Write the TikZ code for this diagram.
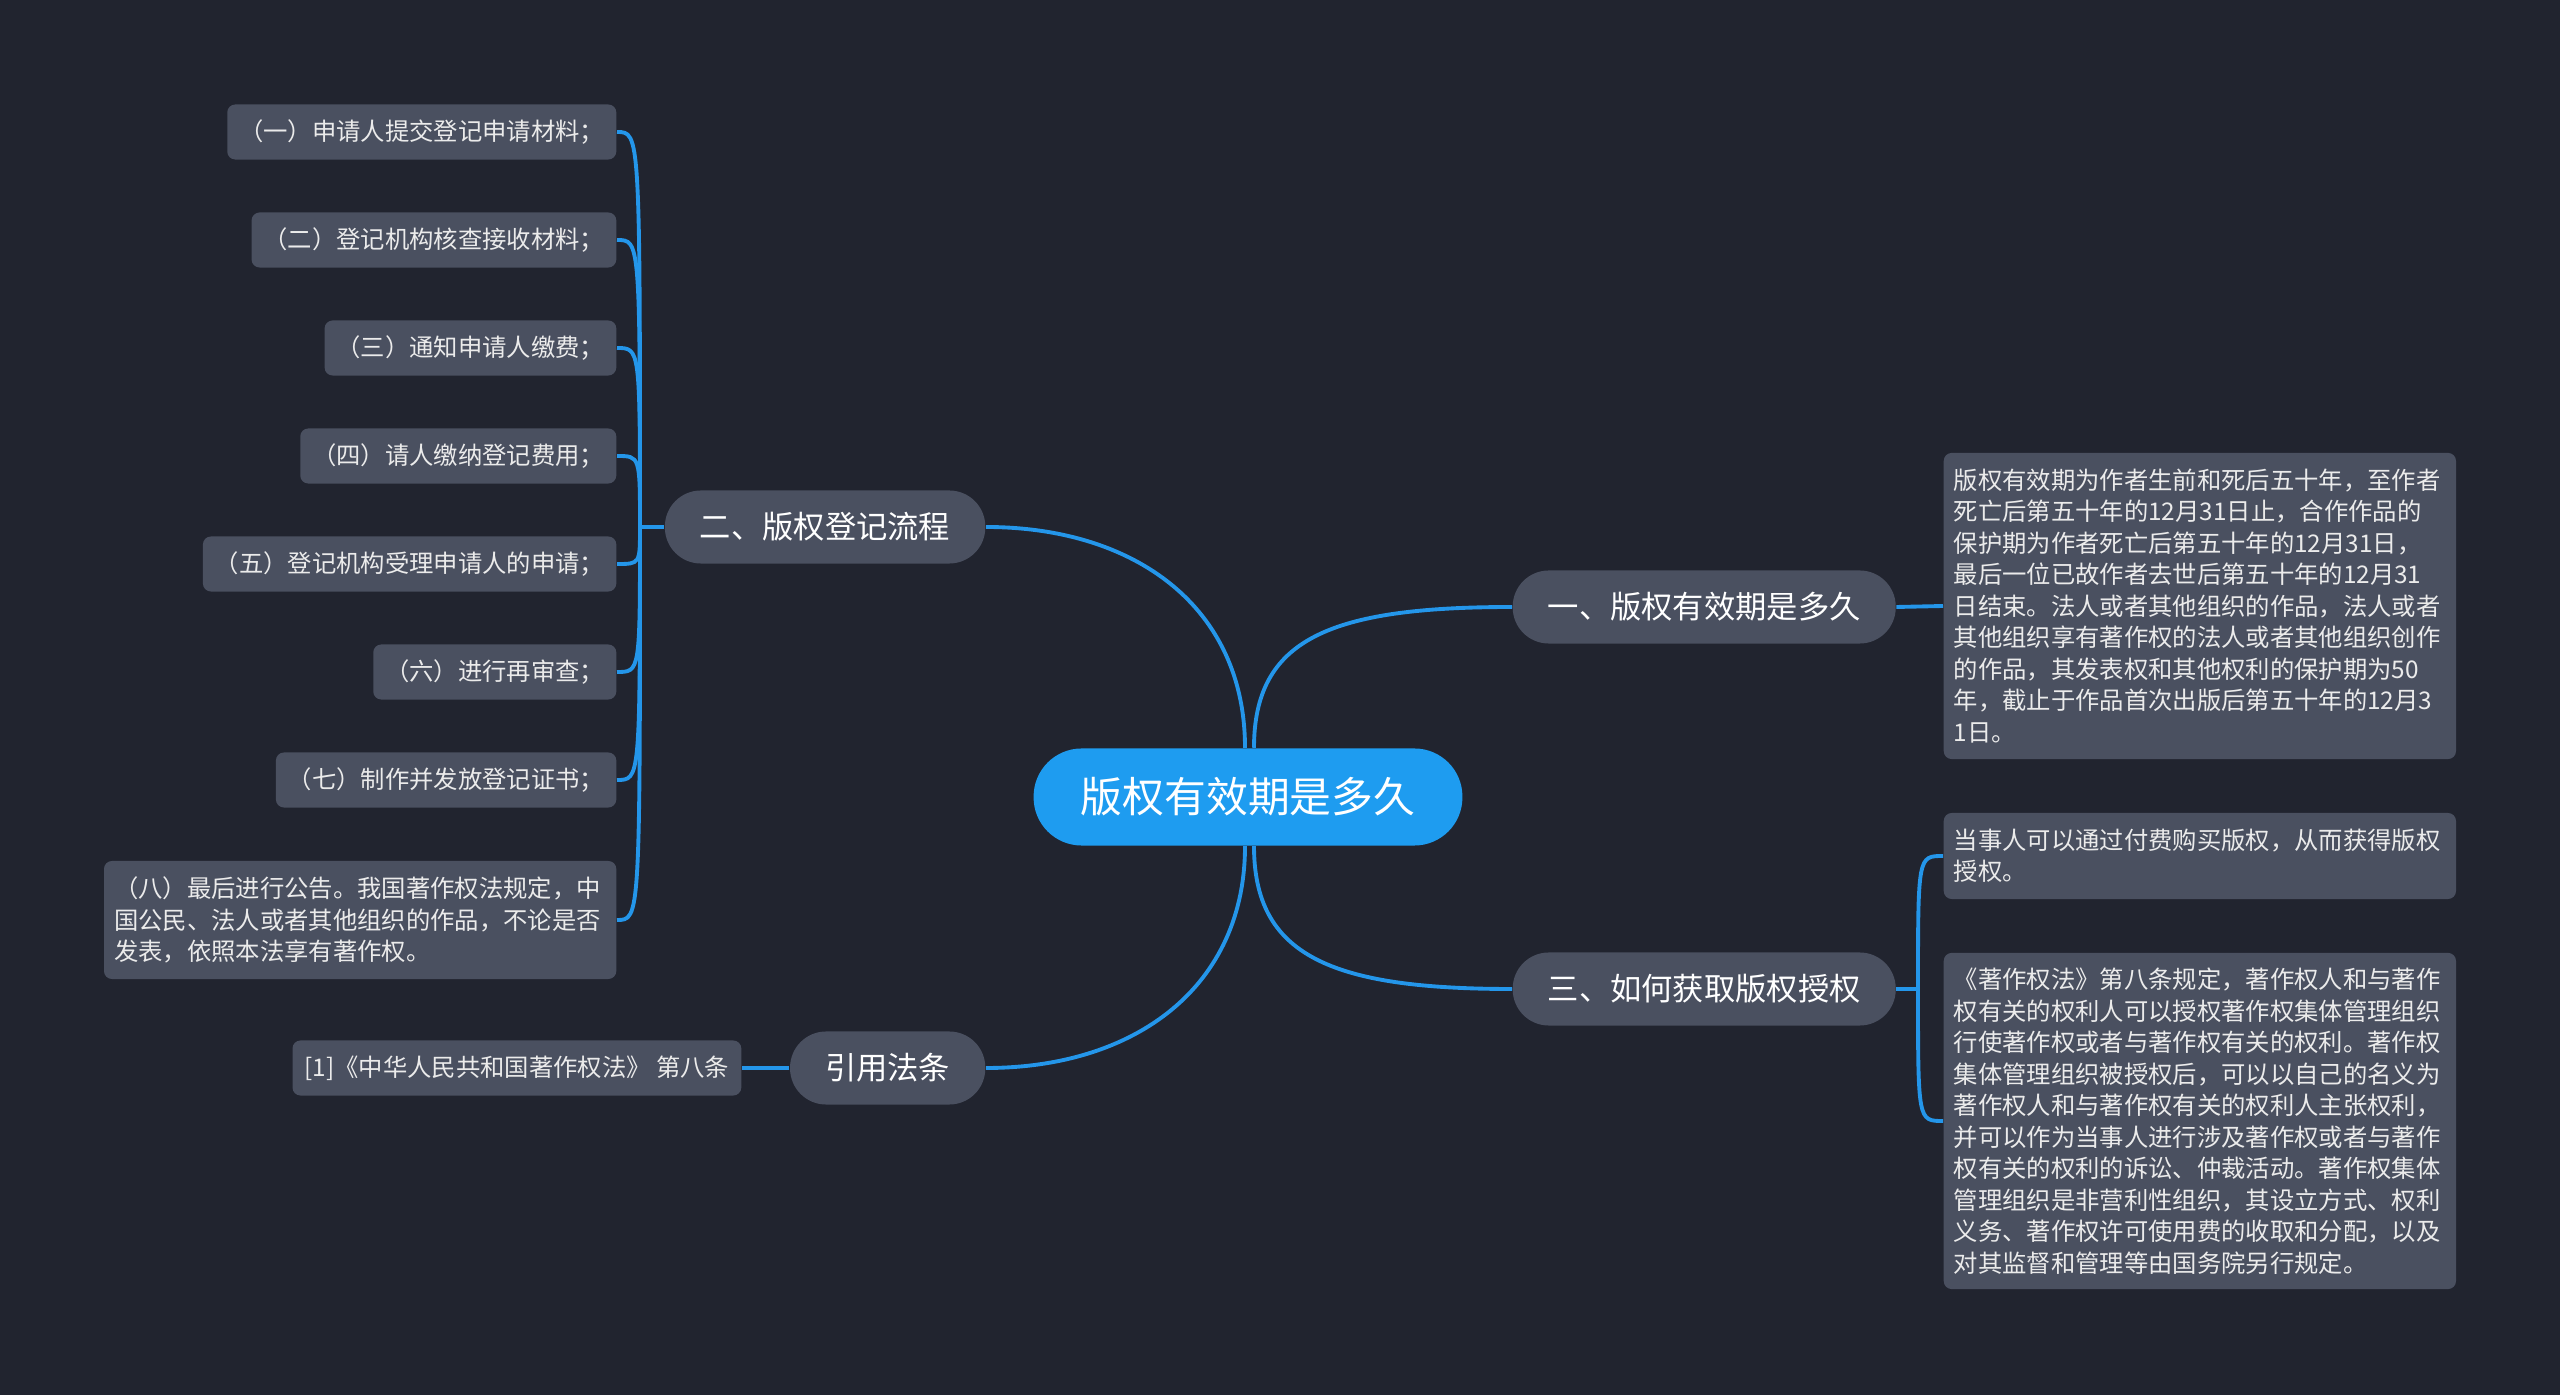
\documentclass[tikz,border=0pt]{standalone}
\usepackage{fontspec}
\newfontfamily\cjk{Noto Sans CJK SC}
\usepackage{tikz}
\usetikzlibrary{calc}
\definecolor{bgcol}{HTML}{21242F}
\definecolor{boxcol}{HTML}{4A5060}
\definecolor{rootcol}{HTML}{1E9CF0}
\definecolor{linecol}{HTML}{2496EA}
\tikzset{
  root/.style={fill=rootcol, rounded corners=0.48cm, minimum height=0.97cm, inner xsep=0.47cm, text=white, font=\cjk\fontsize{11.9}{14}\selectfont},
  branch/.style={fill=boxcol, rounded corners=0.36cm, minimum height=0.73cm, inner xsep=0.35cm, text=white, font=\cjk\fontsize{8.9}{11}\selectfont},
  leaf/.style={fill=boxcol, rounded corners=0.08cm, minimum height=0.55cm, inner xsep=0.12cm, text=white!92!black, font=\cjk\fontsize{6.92}{8.96}\selectfont},
  para/.style={leaf, text width=4.92cm, inner xsep=0.1cm, align=left},
  link/.style={draw=linecol, line width=1.1pt}
}

\begin{document}
\begin{tikzpicture}[x=0.01cm,y=-0.01cm]
\fill[bgcol] (0,0) rectangle (2560,1395); 	% page

\node[root] (root) at (1248,797) {版权有效期是多久};

\node[branch, anchor=west] (b1) at (1512,607) {一、版权有效期是多久};
\node[branch, anchor=east] (b2) at (986,527) {二、版权登记流程};
\node[branch, anchor=west] (b3) at (1512,989) {三、如何获取版权授权};
\node[branch, anchor=east] (b4) at (986,1068) {引用法条};

% steps of the registration
\foreach \i/\t in {1/{（一）申请人提交登记申请材料；},2/{（二）登记机构核查接收材料；},3/{（三）通知申请人缴费；},4/{（四）请人缴纳登记费用；},5/{（五）登记机构受理申请人的申请；},6/{（六）进行再审查；},7/{（七）制作并发放登记证书；}}
\node[leaf, anchor=east] (s\i) at (617,{132+108*(\i-1)}) {\t};
\node[para, anchor=east, minimum height=1.18cm] (s8) at (617,920) {（八）最后进行公告。我国著作权法规定，中\\国公民、法人或者其他组织的作品，不论是否\\发表，依照本法享有著作权。};

\node[leaf, anchor=east] (cite) at (742,1068) {[1]《中华人民共和国著作权法》 第八条};

\node[para, anchor=west, minimum height=3.06cm] (ta) at (1943,606) {版权有效期为作者生前和死后五十年，至作者\\死亡后第五十年的12月31日止，合作作品的\\保护期为作者死亡后第五十年的12月31日，\\最后一位已故作者去世后第五十年的12月31\\日结束。法人或者其他组织的作品，法人或者\\其他组织享有著作权的法人或者其他组织创作\\的作品，其发表权和其他权利的保护期为50\\年，截止于作品首次出版后第五十年的12月3\\1日。};
\node[para, anchor=west, minimum height=0.86cm] (tb) at (1943,856) {当事人可以通过付费购买版权，从而获得版权\\授权。};
\node[para, anchor=west, minimum height=3.36cm] (tc) at (1943,1121) {《著作权法》第八条规定，著作权人和与著作\\权有关的权利人可以授权著作权集体管理组织\\行使著作权或者与著作权有关的权利。著作权\\集体管理组织被授权后，可以以自己的名义为\\著作权人和与著作权有关的权利人主张权利，\\并可以作为当事人进行涉及著作权或者与著作\\权有关的权利的诉讼、仲裁活动。著作权集体\\管理组织是非营利性组织，其设立方式、权利\\义务、著作权许可使用费的收取和分配，以及\\对其监督和管理等由国务院另行规定。};

% root to branches
\draw[link] ([xshift=0.06cm]root.north) .. controls +(0,-109) and +(-182,0) .. (b1.west);
\draw[link] ([xshift=-0.03cm]root.north) .. controls +(0,-140) and +(150,0) .. (b2.east);
\draw[link] ([xshift=0.06cm]root.south) .. controls +(0,109) and +(-182,0) .. (b3.west);
\draw[link] ([xshift=-0.03cm]root.south) .. controls +(0,140) and +(150,0) .. (b4.east);

% branches to leaves
\coordinate (j2) at (640,527);
\draw[link] (b2.west) -- (j2);
\foreach \i in {1,...,8}
\draw[link] (j2) .. controls (j2 |- s\i.east) .. (s\i.east);
\draw[link] (b1.east) -- (ta.west);
\coordinate (j3) at (1918,989);
\draw[link] (b3.east) -- (j3);
\foreach \n in {tb,tc}
\draw[link] (j3) .. controls (j3 |- \n.west) .. (\n.west);
\draw[link] (b4.west) -- (cite.east);
\end{tikzpicture}
\end{document}
